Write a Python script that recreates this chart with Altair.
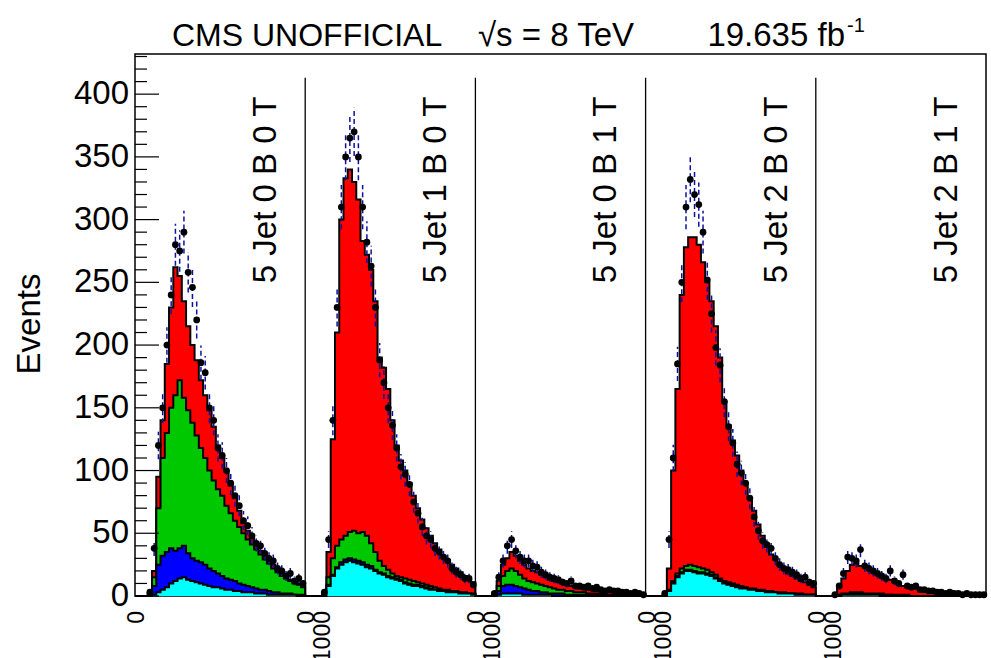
import altair as alt
import pandas as pd

# ---------------- data ----------------
PANEL_LABELS = ["5 Jet 0 B 0 T", "5 Jet 1 B 0 T", "5 Jet 0 B 1 T", "5 Jet 2 B 0 T", "5 Jet 2 B 1 T"]
PANEL_RANGE = 1000
BIN_WIDTH = 25
N_BINS = 40
Y_MAX = 432
DIVIDERS = [1000, 2000, 3000, 4000]
DIVIDER_TOP = 413
X_ZERO_LABELS = [0, 1000, 2000, 3000, 4000]
X_END_LABELS = [1000, 2000, 3000, 4000]
Y_MAJOR = [0, 50, 100, 150, 200, 250, 300, 350, 400]
Y_MINOR = [10, 20, 30, 40, 60, 70, 80, 90, 110, 120, 130, 140, 160, 170, 180, 190,
           210, 220, 230, 240, 260, 270, 280, 290, 310, 320, 330, 340, 360, 370, 380, 390,
           410, 420, 430]

# stacked levels (top of each layer, cumulative), 40 bins of 25 per panel
p1_total = [0, 0, 0, 2, 20, 95, 140, 185, 230, 262, 255, 235, 215, 200, 188, 172, 160, 148, 135, 120,
            110, 100, 88, 78, 68, 58, 52, 46, 41, 36, 32, 28, 25, 21, 18, 15, 13, 11, 10, 8]
p1_green = [0, 0, 0, 1, 15, 70, 110, 130, 150, 160, 172, 158, 148, 138, 128, 118, 110, 100, 92, 85,
            80, 72, 66, 60, 55, 50, 45, 41, 37, 33, 29, 26, 22, 19, 16, 14, 12, 10, 9, 7]
p1_blue = [0, 0, 0, 0, 8, 25, 32, 35, 38, 36, 38, 40, 34, 30, 28, 27, 25, 22, 20, 18,
           16, 14, 13, 12, 10, 9, 8, 7, 6, 5, 5, 4, 3, 3, 2, 2, 2, 1, 1, 1]
p1_cyan = [0, 0, 0, 0, 1, 3, 5, 7, 10, 12, 14, 15, 13, 12, 11, 10, 9, 8, 7, 7,
           6, 5, 5, 4, 4, 3, 3, 3, 2, 2, 2, 1, 1, 1, 1, 1, 1, 1, 0, 0]
p1_data = [0, 0, 0, 3, 38, 120, 150, 200, 240, 280, 275, 290, 258, 246, 220, 186, 178, 150, 140, 118,
           112, 100, 90, 80, 72, 60, 56, 48, 42, 40, 34, 30, 28, 22, 20, 16, 18, 12, 14, 10]

p2_total = [0, 0, 0, 0, 2, 35, 125, 210, 300, 333, 340, 330, 316, 283, 272, 260, 235, 190, 182, 165,
            140, 120, 108, 100, 90, 80, 70, 61, 54, 48, 42, 37, 32, 28, 25, 22, 19, 16, 13, 11]
p2_green = [0, 0, 0, 0, 1, 15, 30, 40, 45, 48, 51, 52, 50, 51, 48, 42, 35, 28, 24, 21,
            18, 16, 15, 14, 13, 12, 11, 10, 9, 8, 7, 6, 5, 5, 4, 4, 3, 3, 2, 2]
p2_blue = [0, 0, 0, 0, 0, 9, 17, 23, 27, 29, 30, 29, 28, 27, 25, 24, 21, 19, 18, 16,
           15, 14, 13, 11, 10, 9, 9, 8, 7, 6, 5, 5, 4, 4, 3, 3, 3, 2, 2, 1]
p2_cyan = [0, 0, 0, 0, 0, 8, 16, 22, 25, 27, 28, 27, 26, 25, 23, 22, 20, 18, 17, 15,
           14, 13, 12, 10, 9, 8, 8, 7, 6, 5, 5, 4, 4, 3, 3, 3, 2, 2, 2, 1]
p2_data = [0, 0, 0, 0, 3, 45, 140, 230, 310, 350, 365, 370, 350, 310, 282, 263, 230, 188, 170, 150,
           136, 118, 103, 97, 89, 75, 66, 55, 48, 45, 38, 35, 31, 28, 22, 19, 17, 14, 14, 9]

p3_total = [0, 0, 0, 0, 3, 12, 25, 30, 35, 32, 28, 25, 22, 20, 19, 17, 15, 13, 12, 11,
            10, 9, 8, 7, 6, 6, 5, 5, 4, 4, 4, 3, 3, 3, 2, 2, 2, 2, 1, 1]
p3_green = [0, 0, 0, 0, 2, 8, 16, 20, 22, 20, 17, 14, 12, 11, 10, 9, 8, 7, 6, 5,
            5, 4, 4, 3, 3, 3, 2, 2, 2, 2, 1, 1, 1, 1, 1, 1, 1, 1, 0, 0]
p3_blue = [0, 0, 0, 0, 1, 4, 8, 9, 9, 8, 7, 6, 5, 4, 4, 3, 3, 2, 2, 2,
           2, 1, 1, 1, 1, 1, 1, 1, 1, 1, 0, 0, 0, 0, 0, 0, 0, 0, 0, 0]
p3_cyan = [0, 0, 0, 0, 0, 1, 2, 2, 2, 2, 2, 1, 1, 1, 1, 1, 1, 1, 0, 0,
           0, 0, 0, 0, 0, 0, 0, 0, 0, 0, 0, 0, 0, 0, 0, 0, 0, 0, 0, 0]
p3_data = [0, 0, 0, 0, 2, 15, 28, 40, 45, 36, 31, 28, 28, 24, 23, 19, 17, 15, 14, 13,
           11, 10, 12, 8, 8, 7, 8, 6, 7, 5, 4, 5, 4, 4, 3, 3, 2, 3, 2, 1]

p4_total = [0, 0, 0, 0, 1, 22, 100, 165, 240, 278, 286, 286, 280, 266, 250, 235, 215, 190, 155, 136,
            124, 112, 100, 90, 78, 68, 57, 48, 39, 33, 29, 25, 22, 18, 16, 14, 12, 11, 9, 7]
p4_green = [0, 0, 0, 0, 0, 5, 12, 18, 22, 24, 25, 24, 23, 22, 21, 19, 17, 14, 12, 11,
            10, 9, 8, 7, 6, 6, 5, 5, 4, 4, 3, 3, 3, 2, 2, 2, 2, 1, 1, 1]
p4_blue = [0, 0, 0, 0, 0, 4, 11, 16, 19, 21, 21, 20, 19, 19, 18, 17, 15, 13, 11, 10,
           9, 8, 7, 6, 5, 5, 4, 4, 3, 3, 3, 2, 2, 2, 2, 1, 1, 1, 1, 1]
p4_cyan = [0, 0, 0, 0, 0, 4, 10, 15, 18, 20, 20, 19, 18, 18, 17, 16, 14, 12, 10, 9,
           8, 7, 6, 6, 5, 5, 4, 4, 3, 3, 3, 2, 2, 2, 2, 1, 1, 1, 1, 1]
p4_data = [0, 0, 0, 0, 2, 45, 110, 185, 250, 310, 332, 320, 312, 290, 252, 225, 198, 184, 155, 135,
           122, 105, 98, 90, 78, 63, 52, 44, 41, 38, 30, 25, 22, 21, 19, 17, 14, 15, 11, 10]

p5_total = [0, 0, 0, 0, 1, 8, 14, 20, 25, 26, 24, 24, 21, 19, 17, 15, 14, 13, 11, 10,
            8, 7, 6, 6, 5, 4, 4, 3, 3, 3, 2, 2, 2, 2, 1, 1, 1, 1, 1, 1]
p5_green = [0, 0, 0, 0, 0, 1, 2, 2, 3, 3, 3, 2, 2, 2, 2, 2, 1, 1, 1, 1,
            1, 1, 0, 0, 0, 0, 0, 0, 0, 0, 0, 0, 0, 0, 0, 0, 0, 0, 0, 0]
p5_blue = [0, 0, 0, 0, 0, 1, 1, 1, 2, 2, 2, 1, 1, 1, 1, 1, 1, 1, 0, 0,
           0, 0, 0, 0, 0, 0, 0, 0, 0, 0, 0, 0, 0, 0, 0, 0, 0, 0, 0, 0]
p5_cyan = [0, 0, 0, 0, 0, 0, 1, 1, 1, 1, 1, 1, 1, 1, 1, 0, 0, 0, 0, 0,
           0, 0, 0, 0, 0, 0, 0, 0, 0, 0, 0, 0, 0, 0, 0, 0, 0, 0, 0, 0]
p5_data = [0, 0, 0, 0, 1, 8, 18, 31, 30, 28, 37, 24, 22, 20, 18, 16, 14, 20, 12, 10,
           17, 8, 7, 8, 5, 5, 4, 4, 3, 3, 2, 3, 2, 2, 1, 2, 1, 1, 1, 1]

# ---------------- tables built from the arrays ----------------
panels = [
    (p1_total, p1_green, p1_blue, p1_cyan, p1_data),
    (p2_total, p2_green, p2_blue, p2_cyan, p2_data),
    (p3_total, p3_green, p3_blue, p3_cyan, p3_data),
    (p4_total, p4_green, p4_blue, p4_cyan, p4_data),
    (p5_total, p5_green, p5_blue, p5_cyan, p5_data),
]
rows = []
for p, (tot, grn, blu, cya, dat) in enumerate(panels):
    for i in range(N_BINS):
        x0 = p * PANEL_RANGE + i * BIN_WIDTH
        rows.append(dict(x=x0, xc=x0 + BIN_WIDTH / 2, total=tot[i], green=grn[i],
                         blue=blu[i], cyan=cya[i], data=dat[i]))
bins = pd.DataFrame(rows)
closing = bins.iloc[[-1]].copy()
closing["x"] = len(panels) * PANEL_RANGE
steps = pd.concat([bins, closing], ignore_index=True)

divs = pd.DataFrame({"x": DIVIDERS, "y0": [0] * len(DIVIDERS), "y1": [DIVIDER_TOP] * len(DIVIDERS)})
labels = pd.DataFrame({"label": PANEL_LABELS,
                       "x": [k * PANEL_RANGE + 770 for k in range(len(PANEL_LABELS))],
                       "y": [398] * len(PANEL_LABELS)})
xz = pd.DataFrame({"x": X_ZERO_LABELS, "t": ["0"] * len(X_ZERO_LABELS)})
xe = pd.DataFrame({"x": X_END_LABELS, "t": ["1000"] * len(X_END_LABELS)})
ymaj = pd.DataFrame({"v": Y_MAJOR, "t": [str(v) for v in Y_MAJOR]})
ymin = pd.DataFrame({"v": Y_MINOR})

FONT = "Liberation Sans"
xs = alt.Scale(domain=[0, len(panels) * PANEL_RANGE], nice=False, zero=False)
ys = alt.Scale(domain=[0, Y_MAX], nice=False)
X = lambda f: alt.X(f, scale=xs, axis=None)
Y = lambda f: alt.Y(f, scale=ys, axis=None)

layers = []
for field, col in [("total", "#ff0000"), ("green", "#00c800"), ("blue", "#0000ff"), ("cyan", "#00ffff")]:
    layers.append(alt.Chart(steps).mark_area(interpolate="step-after", color=col, opacity=1)
                  .encode(x=X("x:Q"), y=Y(f"{field}:Q")))
    layers.append(alt.Chart(steps).mark_line(interpolate="step-after", color="black", strokeWidth=2)
                  .encode(x=X("x:Q"), y=Y(f"{field}:Q")))

derr = (alt.Chart(bins).transform_filter("datum.data > 0")
        .transform_calculate(lo="datum.data - sqrt(datum.data)", hi="datum.data + sqrt(datum.data)")
        .mark_rule(color="#1010a0", strokeDash=[5, 3], strokeWidth=1.5)
        .encode(x=X("xc:Q"), y=Y("lo:Q"), y2="hi:Q"))
dots = (alt.Chart(bins).transform_filter("datum.data > 0")
        .mark_circle(color="black", size=46, opacity=1)
        .encode(x=X("xc:Q"), y=Y("data:Q")))

dividers = alt.Chart(divs).mark_rule(color="black", strokeWidth=1.3).encode(
    x=X("x:Q"), y=Y("y0:Q"), y2="y1:Q")
tmaj = alt.Chart(ymaj).mark_rule(color="black", strokeWidth=1.2).encode(
    y=Y("v:Q"), x=alt.value(0), x2=alt.value(24))
tmin = alt.Chart(ymin).mark_rule(color="black", strokeWidth=1.2).encode(
    y=Y("v:Q"), x=alt.value(0), x2=alt.value(12))
ylab = alt.Chart(ymaj).mark_text(font=FONT, fontSize=33, align="right", baseline="middle", color="black").encode(
    y=Y("v:Q"), x=alt.value(-6), text="t:N")

plab = alt.Chart(labels).mark_text(font=FONT, fontSize=33, angle=270, align="right", baseline="middle",
                                   color="black").encode(x=X("x:Q"), y=Y("y:Q"), text="label:N")
xlab0 = alt.Chart(xz).mark_text(font=FONT, fontSize=23, angle=270, align="right", baseline="middle",
                                dy=2, color="black").encode(x=X("x:Q"), y=alt.value(557), text="t:N")
xlab1 = alt.Chart(xe).mark_text(font=FONT, fontSize=23, angle=270, align="right", baseline="middle",
                                dy=18, color="black").encode(x=X("x:Q"), y=alt.value(557), text="t:N")

one = pd.DataFrame({"a": [0]})
def txt(s, x, y, size=32, align="left", angle=0, baseline="alphabetic"):
    return alt.Chart(one).mark_text(font=FONT, fontSize=size, align=align, baseline=baseline,
                                    angle=angle, color="black").encode(
        x=alt.value(x), y=alt.value(y), text=alt.value(s))

titles = [
    txt("CMS UNOFFICIAL", 37, -8),
    txt("\u221as = 8 TeV", 343, -8, size=33),
    txt("19.635 fb", 710, -8, align="right", size=33),
    txt("-1", 712, -22, size=20),
    txt("Events", -105, 270, angle=270, align="center", baseline="middle", size=33),
]

chart = alt.layer(*layers, derr, dots, dividers, tmaj, tmin, ylab, plab, xlab0, xlab1, *titles).properties(
    width=851, height=542,
    padding={"left": 135, "top": 54, "right": 5, "bottom": 62},
    autosize=alt.AutoSizeParams(type="none"),
    background="white",
).configure_view(stroke="black", strokeWidth=1.5)

chart.save("out.html", embed_options={"renderer": "svg", "actions": False})
